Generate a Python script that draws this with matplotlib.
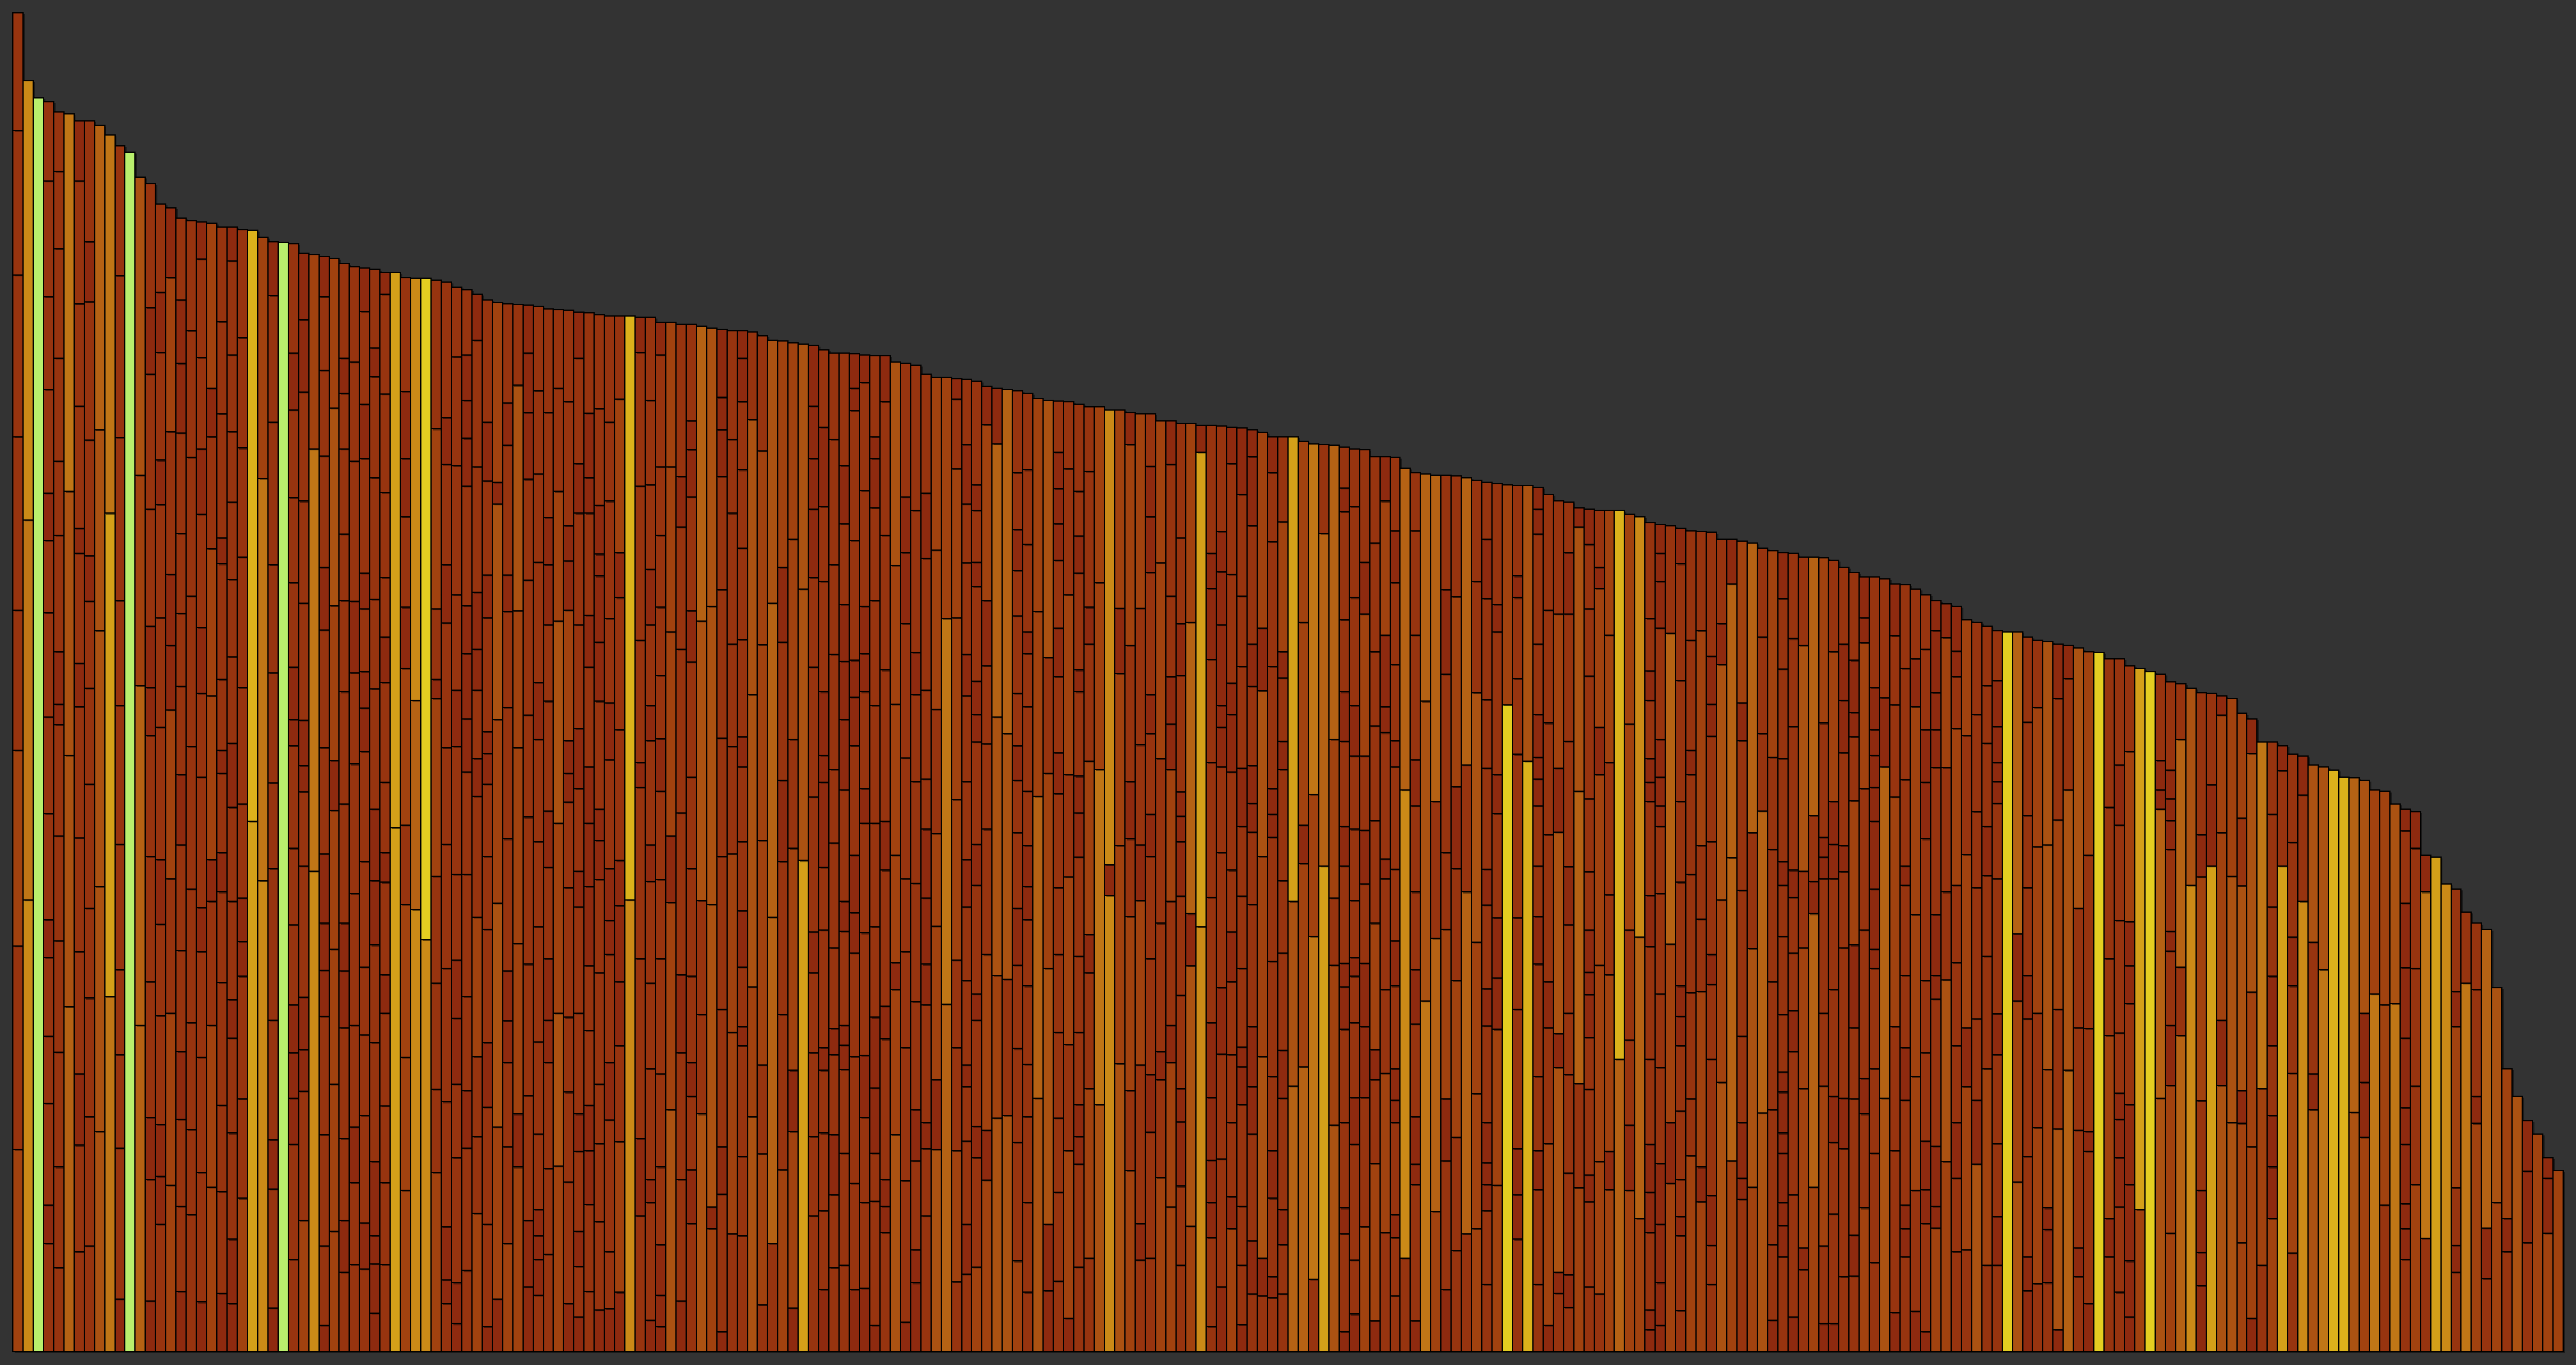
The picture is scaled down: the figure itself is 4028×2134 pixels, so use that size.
import numpy as np
import matplotlib
matplotlib.use("Agg")
import matplotlib.pyplot as plt
import matplotlib.patheffects as pe

# cumulative top of every segment in each bar (bottom to top), bars sorted by total
bounds = [
    [232,466,691,852,1051,1237,1403,1538],
    [519,955,1460],
    [1440],
    [124,168,285,362,453,496,618,729,849,932,986,1105,1212,1345,1436],
    [96,212,344,472,592,720,744,804,938,1023,1141,1267,1356,1424],
    [396,685,988,1422],
    [115,237,319,459,590,741,791,917,946,1086,1204,1345,1414],
    [121,270,406,509,652,762,862,914,1047,1206,1275,1414],
    [253,534,828,1059,1409],
    [408,963,1398],
    [60,234,341,439,583,742,863,1050,1236,1385],
    [1378],
    [375,765,1007,1349],
    [58,198,269,425,569,708,763,833,968,1123,1199,1342],
    [146,201,261,386,491,565,717,843,973,1024,1148,1217,1318],
    [191,389,543,737,811,893,1057,1234,1314],
    [69,167,267,345,461,582,663,764,848,940,1055,1135,1208,1302],
    [157,255,378,531,695,868,1027,1173,1299],
    [57,206,338,459,510,660,756,832,962,1037,1142,1255,1298],
    [189,375,517,565,753,922,1051,1107,1296],
    [67,184,283,424,528,573,664,691,772,905,935,1077,1183,1292],
    [55,129,251,360,404,517,625,699,798,887,976,1057,1145,1253,1292],
    [176,290,431,471,521,629,763,913,1038,1165,1289],
    [609,1288],
    [541,1003,1280],
    [50,187,243,381,555,653,780,904,1068,1213,1275],
    [1274],
    [106,238,291,343,398,490,578,696,726,786,883,981,1082,1147,1273],
    [151,299,347,407,558,643,673,725,860,977,1102,1185,1262],
    [552,1037,1260],
    [30,121,249,385,438,492,572,694,829,901,1029,1127,1212,1258],
    [138,307,462,622,679,857,1084,1256],
    [91,151,245,372,437,492,629,758,863,939,1037,1101,1141,1250],
    [100,194,258,375,526,675,780,862,1023,1137,1246],
    [95,148,271,364,442,563,689,739,781,853,894,1026,1088,1195,1245],
    [44,101,133,218,355,467,541,623,761,864,1004,1120,1153,1243],
    [100,194,282,389,433,539,573,654,769,821,889,987,1100,1215,1240],
    [602,1240],
    [185,338,514,605,785,855,959,1026,1103,1234],
    [508,748,1233],
    [473,1233],
    [206,301,423,546,750,772,853,1060,1231],
    [55,82,143,287,440,583,694,837,904,1019,1073,1229],
    [32,79,223,307,383,450,548,695,760,869,1018,1143,1223],
    [93,234,300,408,548,666,727,802,857,994,1049,1093,1145,1220],
    [159,247,339,499,638,681,760,807,872,1016,1162,1215],
    [29,146,281,355,485,569,652,687,712,843,892,1000,1068,1208],
    [60,258,515,726,974,999,1205],
    [124,235,332,380,437,589,740,850,892,1041,1090,1204],
    [212,273,469,694,851,1110,1203],
    [74,151,294,445,614,731,886,1002,1079,1147,1202],
    [65,106,133,163,250,356,488,586,703,769,907,1008,1104,1201],
    [112,210,332,381,451,556,621,747,835,904,958,1079,1198],
    [213,389,607,839,988,1107,1197],
    [55,195,298,384,533,631,664,702,852,908,949,1091,1196],
    [40,98,138,230,273,389,511,552,647,716,835,963,1020,1141,1194],
    [69,169,231,283,369,443,534,607,672,786,846,963,1004,1078,1193],
    [48,149,239,307,435,542,587,623,747,815,891,916,972,1083,1191],
    [49,115,266,332,456,495,555,680,745,842,977,1068,1190],
    [68,241,351,425,512,564,714,866,918,1094,1190],
    [519,1190],
    [156,245,451,648,677,817,994,1148,1188],
    [36,171,198,325,423,540,582,702,742,835,899,996,1093,1188],
    [29,65,123,212,319,451,542,644,704,777,855,938,1016,1145,1182],
    [278,516,592,827,1016,1182],
    [58,198,343,433,619,807,947,1005,1180],
    [147,209,293,332,431,555,660,792,851,982,1036,1069,1180],
    [273,387,518,839,1178],
    [141,166,514,856,1176],
    [23,181,235,393,569,705,875,1005,1059,1096,1174],
    [135,367,572,695,813,963,1048,1173],
    [133,224,351,373,442,506,586,672,706,818,923,1013,1091,1141,1173],
    [270,419,755,1071,1171],
    [54,227,329,587,812,1035,1167],
    [124,499,860,1162],
    [209,387,563,656,815,901,1161],
    [50,253,323,578,703,933,1159],
    [564,876,1157],
    [156,247,343,435,482,637,786,889,968,1026,1086,1156],
    [71,162,251,323,349,484,556,654,685,758,885,971,1062,1151],
    [96,180,249,341,371,464,584,669,801,904,1048,1147],
    [99,228,324,352,375,483,517,645,726,793,858,951,1018,1147],
    [71,193,339,458,504,570,696,752,794,932,1081,1107,1146],
    [73,171,269,340,481,607,647,758,802,856,989,1113,1145],
    [30,173,228,303,384,488,607,742,863,969,1026,1051,1144],
    [137,167,198,359,397,553,609,783,938,1091,1144],
    [249,416,447,570,744,903,1137],
    [34,196,349,459,543,682,836,918,982,1135],
    [79,117,219,278,402,538,655,755,803,966,1133],
    [156,233,263,398,445,521,600,658,760,911,986,1123],
    [232,312,489,595,738,921,1119],
    [399,842,1119],
    [80,231,349,450,634,843,1014,1094,1118],
    [89,146,242,304,329,426,511,565,655,753,801,906,974,1042,1117],
    [97,223,259,381,411,536,583,700,732,770,879,907,966,996,1115],
    [197,254,456,600,698,788,863,1065,1109],
    [268,432,729,1043,1107],
    [271,428,710,1105],
    [104,240,348,444,509,596,656,696,756,845,897,944,1010,1104],
    [68,171,270,330,420,496,534,581,644,741,802,827,927,1013,1101],
    [291,638,850,1095],
    [70,146,440,664,797,1093],
    [81,183,268,367,456,533,641,688,775,831,909,951,991,1033,1092],
    [38,231,353,545,663,869,1014,1091],
    [97,215,247,284,367,454,568,619,661,758,783,894,937,988,1088],
    [107,302,435,479,678,813,855,1011,1085],
    [284,669,883,1085],
    [524,559,1082],
    [331,581,779,854,1082],
    [208,300,500,589,655,811,1042,1079],
    [105,147,329,518,582,697,854,1077],
    [107,252,318,451,569,617,710,755,895,959,1017,1077],
    [200,312,345,492,681,906,1069],
    [166,332,375,517,669,721,775,868,1019,1069],
    [99,190,264,302,409,523,586,615,643,777,836,935,1066],
    [144,443,503,838,1066],
    [488,1033,1064],
    [29,131,171,220,292,378,522,677,795,877,917,1064],
    [74,221,342,418,573,672,717,742,835,896,942,1063],
    [141,178,263,341,425,482,553,666,732,768,893,1020,1062],
    [31,99,167,284,327,350,440,523,603,670,787,868,985,1061],
    [66,127,250,304,373,514,597,630,673,764,813,949,1028,1059],
    [64,107,339,569,759,831,1056],
    [62,86,176,231,316,448,591,617,647,787,930,1010,1051],
    [66,123,163,291,346,458,541,669,701,774,804,953,1051],
    [305,517,1051],
    [327,561,605,838,1046],
    [83,477,640,1043],
    [558,940,1042],
    [260,444,521,703,1041],
    [23,135,165,263,370,419,446,558,603,701,758,841,965,992,1039],
    [43,105,238,292,378,431,453,518,600,684,742,866,971,1037],
    [143,292,373,446,537,599,684,847,907,1036],
    [35,216,312,347,492,610,719,804,929,1028],
    [137,320,416,543,566,711,741,823,977,1028],
    [64,131,157,263,289,325,420,472,554,672,702,789,883,943,1027],
    [107,645,1015],
    [35,192,215,270,376,439,528,627,680,823,943,1010],
    [403,747,1008],
    [161,475,632,1007],
    [71,219,290,485,573,778,875,1007],
    [116,246,426,555,649,867,1006],
    [135,528,674,1004],
    [141,296,470,757,885,1001],
    [77,162,192,217,263,374,417,513,554,670,749,865,933,999],
    [191,370,429,498,618,663,827,858,997],
    [743,996],
    [129,180,233,393,498,686,773,866,891,995],
    [678,995],
    [77,186,231,316,445,500,558,627,658,683,732,813,939,968,993],
    [30,239,372,425,594,722,852,985],
    [67,91,326,365,597,670,847,977],
    [51,88,205,318,389,490,557,701,847,918,976],
    [188,308,644,947,969],
    [74,172,203,301,361,410,436,484,551,635,776,853,927,968],
    [66,218,444,663,717,877,901,966],
    [186,230,433,525,677,823,966],
    [336,966],
    [185,260,358,484,721,962],
    [153,476,959],
    [25,48,137,183,238,336,465,524,632,654,681,748,782,842,952],
    [30,79,146,216,326,411,526,603,627,660,703,831,885,917,950],
    [193,263,468,825,949],
    [47,133,155,198,276,351,385,420,539,632,771,905,946],
    [225,290,412,548,663,691,817,943],
    [172,212,414,497,581,828,942],
    [77,122,179,336,422,456,586,707,744,799,941],
    [309,519,789,836,933],
    [219,567,882,933],
    [175,199,263,362,530,702,745,931],
    [189,463,596,929],
    [274,621,710,821,923],
    [36,123,278,425,577,683,920],
    [109,145,171,228,251,298,321,387,477,536,563,681,784,865,918],
    [40,180,345,392,458,522,553,718,819,917],
    [94,119,302,464,552,811,913],
    [189,503,540,616,913],
    [32,121,305,389,543,568,591,722,912],
    [32,158,240,293,416,543,583,632,804,909],
    [86,233,291,464,551,581,688,748,813,901],
    [87,134,290,372,467,633,706,734,794,895],
    [165,273,314,484,647,814,843,890],
    [102,228,325,440,462,531,609,648,685,714,763,890],
    [291,672,751,888],
    [45,231,373,637,743,822,882],
    [109,141,168,289,349,432,536,558,657,785,881],
    [46,185,316,502,741,796,876],
    [23,147,186,242,343,426,589,654,714,807,869],
    [142,167,236,405,432,502,671,714,757,828,863],
    [218,427,528,671,820,859],
    [115,199,263,351,447,536,716,775,805,856],
    [117,304,372,571,708,841],
    [215,289,382,533,620,732,838],
    [99,325,454,547,603,699,765,833],
    [99,155,239,341,388,543,630,655,677,718,771,828],
    [827],
    [195,403,480,827],
    [70,109,224,382,432,533,616,723,821],
    [78,257,389,580,740,817],
    [79,140,165,324,582,816],
    [25,256,393,611,750,813],
    [323,645,773,811],
    [86,119,254,372,509,808],
    [55,230,253,371,570,804],
    [803],
    [109,153,363,451,625,796],
    [68,166,223,267,297,366,495,605,674,796],
    [40,104,192,284,400,443,494,689,788],
    [163,785],
    [781],
    [291,623,645,679,778],
    [136,306,375,460,483,577,610,635,668,769],
    [363,442,703,767],
    [536,762],
    [76,114,185,288,545,594,757],
    [558,651,756],
    [306,381,596,731,753],
    [263,546,750],
    [125,262,300,535,613,733],
    [38,235,413,687,727],
    [99,302,700],
    [153,212,271,351,431,511,617,700],
    [558,667,696],
    [113,320,420,476,585,686],
    [517,639,684],
    [278,319,470,674],
    [439,672],
    [668],
    [660],
    [275,659],
    [246,309,389,656],
    [411,645],
    [168,398,644],
    [400,629],
    [106,141,170,238,280,360,441,515,598,623],
    [192,305,440,578,620],
    [130,528,570],
    [568],
    [537],
    [91,122,188,373,414,531],
    [423,505],
    [262,293,416,492],
    [84,142,485],
    [171,418],
    [115,153,325],
    [293],
    [125,207,265],
    [250],
    [136,199,223],
    [208],
]

# colour level of every segment (bottom to top), one character per segment
tones = [
    "21211111", "656", "A", "101110111101111", "11111100111111", "4335",
    "1101110101110", "111111101101", "33334", "575", "0111111111", "A", "4423",
    "010111001101", "1001101110101", "221200120", "01101101111001", "111111111",
    "0111011010110", "221022102", "01111010110111", "001101101111110", "21100111111",
    "78", "652", "01011111110", "A", "110001110011101", "2100110011100", "652",
    "01110001101110", "22220232", "10110011111101", "11011110111", "101111100101010",
    "00001100111101", "111101011011110", "77", "2221201001", "646", "69",
    "211120121", "100111110101", "0011001101111", "11011100010001", "211210100110",
    "01101110010101", "0232302", "211001110101", "2022231", "00111111000",
    "10001111101111", "1110010110011", "2323211", "0111110020011",
    "010101101011010", "110011000101001", "011111001000011", "0110100101111",
    "02100011021", "68", "101101110", "01011101010111", "000111110111110",
    "320222", "011011101", "1010111101001", "31134", "20333", "01011111000",
    "12211111", "111010110111100", "32331", "1212221", "1443", "2110102",
    "0202122", "733", "111101110000", "01110110001101", "110101111111",
    "11100101000101", "0111001001100", "0110110100110", "0110011111001",
    "10010101110", "3202223", "0111111001", "00101111011", "110100011101",
    "3022122", "452", "121122210", "101101101101101", "210101010010101",
    "202111020", "32340", "3134", "21110110111011", "111111001110111", "3422",
    "003213", "111111101010001", "02121211", "110011100101011", "121021011",
    "3522", "606", "32202", "21210120", "10120112", "110110101001", "2101122",
    "2201200110", "1100110001011", "23042", "670", "110000111001",
    "011011000001", "2011101100110", "01110011101110", "10100110010100",
    "1032302", "1010111001110", "1101011101021", "437", "42022", "1525", "741",
    "32124", "010110010101101", "01101101110111", "2100101201", "0210211111",
    "1211010020", "110100101101101", "164", "010010110111", "534", "2414",
    "01021101", "1121021", "1414", "222311", "11000101011101", "220010101",
    "92", "1001111101", "83", "110110110001100", "02101111", "10303021",
    "10111101101", "21430", "11011000111110", "12220201", "2021122", "48",
    "201122", "246", "001001101001011", "000011110001000", "20241",
    "1101110011110", "21111011", "2021121", "11011011001", "32301", "2440",
    "10011102", "2314", "34111", "0111112", "100000011101110", "0110110111",
    "1022131", "24014", "012110012", "0110110021", "1101101001", "1011021001",
    "21011200", "111100000001", "3401", "0112110", "10010110111", "0122201",
    "01001110011", "20010010000", "231120", "1101112100", "120212", "3011111",
    "12110111", "101101100001", "9", "3204", "001101111", "121221", "100233",
    "031210", "4310", "101113", "010112", "9", "102111", "1100011101",
    "000010021", "27", "9", "34001", "2201010001", "4141", "63", "0001201",
    "701", "30220", "332", "220312", "02230", "125", "20010111", "710",
    "121011", "610", "3013", "53", "8", "8", "34", "2003", "52", "122", "53",
    "1000000010", "21110", "150", "7", "6", "101201", "51", "2011", "104",
    "23", "102", "3", "100", "2", "200", "2",
]

palette = {
    "0": "#8e2a0f", "1": "#97340f", "2": "#a1420f", "3": "#ab5212",
    "4": "#b56214", "5": "#c07616", "6": "#cb8a17", "7": "#d4a019",
    "8": "#dcb21b", "9": "#e4ce21", "A": "#b9ef6d",
}

bg = "#333333"
fig = plt.figure(figsize=(40.28, 21.34), dpi=100, facecolor=bg)
ax = fig.add_axes([20 / 4028, 21 / 2134, 3988 / 4028, 2093 / 2134])
ax.set_facecolor(bg)

xs, hs, bs, cs = [], [], [], []
for i, (b, t) in enumerate(zip(bounds, tones)):
    lows = [0] + b[:-1]
    for j, (lo, hi) in enumerate(zip(lows, b)):
        xs.append(i)
        hs.append(hi - lo)
        bs.append(lo)
        cs.append(palette[t[j] if j < len(t) else t[-1]])

bars = ax.bar(xs, hs, bottom=bs, width=1.0, color=cs,
              edgecolor="black", linewidth=1.4, clip_on=False)
shadow = [pe.SimplePatchShadow(offset=(2, -1.5), shadow_rgbFace="black", alpha=0.45),
          pe.Normal()]
for p in bars:
    p.set_path_effects(shadow)

ax.set_xlim(-0.5, len(bounds) - 0.5)
ax.set_ylim(0, max(b[-1] for b in bounds))
ax.axis("off")

fig.savefig("out.png", dpi=100, facecolor=bg)
